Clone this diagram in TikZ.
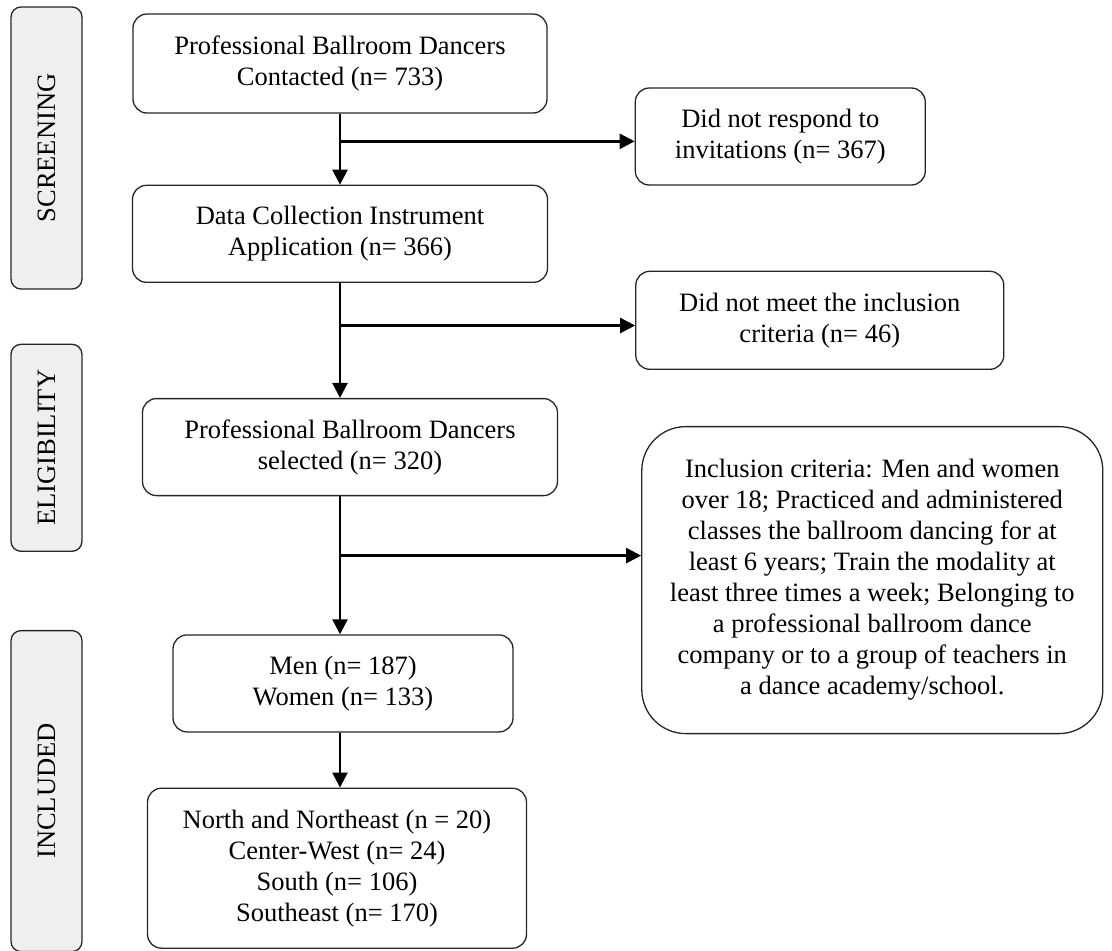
\documentclass[tikz,border=0pt]{standalone}
\usepackage{fontspec}
\setmainfont{Liberation Serif}
\usetikzlibrary{positioning,arrows.meta,calc}
\definecolor{fondo}{HTML}{EFEFEF}

\begin{document}
\begin{tikzpicture}[
    x=1pt, y=1pt,
    font=\fontsize{26.5}{31}\selectfont,
    etapa/.style={draw=black!85, line width=1.3pt, rounded corners=10pt, fill=fondo, minimum width=71pt, inner sep=0pt},
    caja/.style={draw=black!85, line width=1.3pt, rounded corners=14pt, align=center, inner sep=4pt, fill=white},
    flecha/.style={-{Triangle[length=15pt, width=15pt]}, line width=2.5pt},
]
    \useasboundingbox (0,0) rectangle (1112,-951);
    \node[etapa, minimum height=282pt] (e1) at (46.5,-148) {\rotatebox{90}{SCREENING}};
    \node[etapa, minimum height=207pt, below=54pt of e1] (e2) {\rotatebox{90}{ELIGIBILITY}};
    \node[etapa, minimum height=321pt, below=78pt of e2] (e3) {\rotatebox{90}{INCLUDED}};
    \node[caja, minimum width=414pt, minimum height=99pt] (c1) at (340,-63.5) {Professional Ballroom Dancers\\Contacted (n= 733)};
    \node[caja, minimum width=290pt, minimum height=97pt, right=87pt of c1, yshift=-73pt] (c2) {Did not respond to\\invitations (n= 367)};
    \node[caja, minimum width=415pt, minimum height=97pt, below=71pt of c1] (c3) {Data Collection Instrument\\Application (n= 366)};
    \node[caja, minimum width=368pt, minimum height=98pt, right=87pt of c3, yshift=-86.5pt] (c4) {Did not meet the inclusion\\criteria (n= 46)};
    \node[caja, minimum width=415pt, minimum height=97pt, below=115pt of c3, xshift=10pt] (c5) {Professional Ballroom Dancers\\selected (n= 320)};
    \node[caja, minimum width=461pt, minimum height=307pt, rounded corners=44pt, right=83pt of c5, yshift=-133pt] (c6) {Inclusion criteria: Men and women\\over 18; Practiced and administered\\classes the ballroom dancing for at\\least 6 years; Train the modality at\\least three times a week; Belonging to\\a professional ballroom dance\\company or to a group of teachers in\\a dance academy/school.};
    \node[caja, minimum width=340pt, minimum height=97pt, below=138pt of c5, xshift=-7pt] (c7) {Men (n= 187)\\Women (n= 133)};
    \node[caja, minimum width=379pt, minimum height=160pt, below=55pt of c7, xshift=-6pt] (c8) {North and Northeast (n = 20)\\Center-West (n= 24)\\South (n= 106)\\Southeast (n= 170)};
    \coordinate (r1) at ($(c1.south)!.39!(c1.south |- c3.north)$);
    \coordinate (r2) at ($(c1.south |- c3.south)!.37!(c1.south |- c5.north)$);
    \coordinate (r3) at ($(c1.south |- c5.south)!.43!(c1.south |- c7.north)$);
    \foreach \a/\b in {c1/c3,c3/c5,c5/c7,c7/c8} \draw[flecha] (c1 |- \a.south) -- (c1 |- \b.north);
    \foreach \a/\b in {r1/c2,r2/c4,r3/c6} \draw[flecha] (\a) -- (\a -| \b.west);
\end{tikzpicture}
\end{document}
